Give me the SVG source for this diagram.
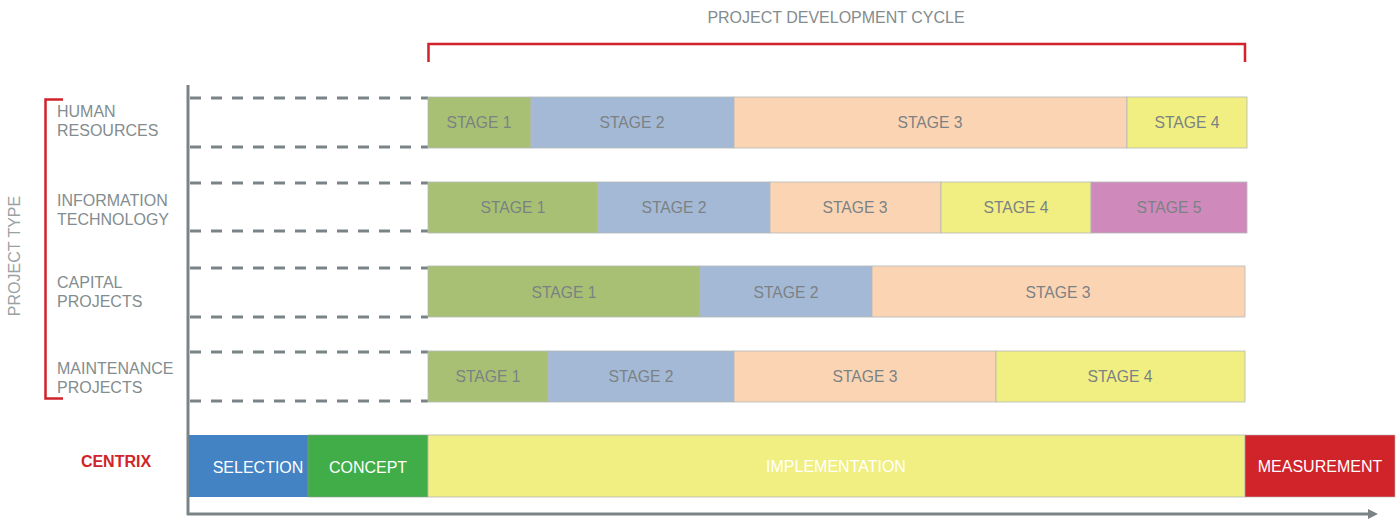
<svg xmlns="http://www.w3.org/2000/svg" width="1400" height="521" viewBox="0 0 1400 521">
<style>
text{font-family:"Liberation Sans",Arial,sans-serif}
.lbl{font-size:16px;fill:#838c8e}
.st{font-size:15.7px;fill:#7b8284;text-anchor:middle}
.wt{font-size:16px;fill:#ffffff;text-anchor:middle}
.bar{stroke:#b4b8ba;stroke-width:0.8}
.s1{fill:#a8c073}.s2{fill:#a4b9d6}.s3{fill:#fbd4b4}.s4{fill:#f1ef82}.s5{fill:#d089bb}
.dash{stroke:#7a8487;stroke-width:3;stroke-dasharray:11 10;fill:none}
.red{stroke:#d0232a;stroke-width:2.5;fill:none}
</style>
<defs>
<marker id="arr" markerWidth="10" markerHeight="10" refX="2" refY="5" orient="auto" markerUnits="userSpaceOnUse">
<path d="M0,0 L10,5 L0,10 Z" fill="#7a8487"/>
</marker>
</defs>

<g id="title">
<text x="836" y="23" text-anchor="middle" style="font-size:16px;fill:#838c8e">PROJECT DEVELOPMENT CYCLE</text>
<path class="red" d="M428.5,62 V44 H1245 V62"/>
</g>

<g id="project-type">
<text transform="translate(20,256) rotate(-90)" text-anchor="middle" style="font-size:16px;fill:#9aa1a3">PROJECT TYPE</text>
<path class="red" d="M63,99.5 H45.5 V398.5 H63"/>
</g>

<g id="connectors">
<line x1="188" y1="85" x2="188" y2="515" stroke="#7a8487" stroke-width="3"/>
<line x1="187" y1="514" x2="1370" y2="514" stroke="#7a8487" stroke-width="3" marker-end="url(#arr)"/>
<path class="dash" d="M190,98 H428 M190,147 H428 M190,183 H428 M190,231 H428 M190,268 H428 M190,317 H428 M190,352 H428 M190,401 H428"/>
</g>

<g id="row-hr">
<text class="lbl" x="57" y="117">HUMAN</text>
<text class="lbl" x="57" y="136">RESOURCES</text>
<rect class="bar s1" x="428" y="97" width="103" height="51"/>
<rect class="bar s2" x="531" y="97" width="203" height="51"/>
<rect class="bar s3" x="734" y="97" width="393" height="51"/>
<rect class="bar s4" x="1127" y="97" width="120" height="51"/>
<text class="st" x="479" y="128">STAGE 1</text>
<text class="st" x="632" y="128">STAGE 2</text>
<text class="st" x="930" y="128">STAGE 3</text>
<text class="st" x="1187" y="128">STAGE 4</text>
</g>

<g id="row-it">
<text class="lbl" x="57" y="206">INFORMATION</text>
<text class="lbl" x="57" y="225">TECHNOLOGY</text>
<rect class="bar s1" x="428" y="182" width="170" height="51"/>
<rect class="bar s2" x="598" y="182" width="172" height="51"/>
<rect class="bar s3" x="770" y="182" width="171" height="51"/>
<rect class="bar s4" x="941" y="182" width="150" height="51"/>
<rect class="bar s5" x="1091" y="182" width="156" height="51"/>
<text class="st" x="513" y="213">STAGE 1</text>
<text class="st" x="674" y="213">STAGE 2</text>
<text class="st" x="855" y="213">STAGE 3</text>
<text class="st" x="1016" y="213">STAGE 4</text>
<text class="st" x="1169" y="213">STAGE 5</text>
</g>

<g id="row-capital">
<text class="lbl" x="57" y="288">CAPITAL</text>
<text class="lbl" x="57" y="307">PROJECTS</text>
<rect class="bar s1" x="428" y="266" width="272" height="51"/>
<rect class="bar s2" x="700" y="266" width="172" height="51"/>
<rect class="bar s3" x="872" y="266" width="373" height="51"/>
<text class="st" x="564" y="298">STAGE 1</text>
<text class="st" x="786" y="298">STAGE 2</text>
<text class="st" x="1058" y="298">STAGE 3</text>
</g>

<g id="row-maintenance">
<text class="lbl" x="57" y="374">MAINTENANCE</text>
<text class="lbl" x="57" y="393">PROJECTS</text>
<rect class="bar s1" x="428" y="351" width="120" height="51"/>
<rect class="bar s2" x="548" y="351" width="186" height="51"/>
<rect class="bar s3" x="734" y="351" width="262" height="51"/>
<rect class="bar s4" x="996" y="351" width="249" height="51"/>
<text class="st" x="488" y="382">STAGE 1</text>
<text class="st" x="641" y="382">STAGE 2</text>
<text class="st" x="865" y="382">STAGE 3</text>
<text class="st" x="1120" y="382">STAGE 4</text>
</g>

<g id="row-centrix">
<text x="116" y="467" text-anchor="middle" style="font-size:16px;font-weight:bold;fill:#d0232a">CENTRIX</text>
<rect x="189" y="435" width="119" height="62" fill="#4383c4"/>
<rect x="308" y="435" width="120" height="62" fill="#41ad49" stroke="#8c9a8f" stroke-width="0.6"/>
<rect x="428" y="435" width="817" height="62" fill="#f1ef82" stroke="#b4b8ba" stroke-width="0.8"/>
<rect x="1245" y="435" width="150" height="62" fill="#d0232a" stroke="#b4b8ba" stroke-width="0.6"/>
<text class="wt" x="258" y="473">SELECTION</text>
<text class="wt" x="368" y="473">CONCEPT</text>
<text class="wt" x="836" y="472">IMPLEMENTATION</text>
<text class="wt" x="1320" y="472">MEASUREMENT</text>
</g>
</svg>
